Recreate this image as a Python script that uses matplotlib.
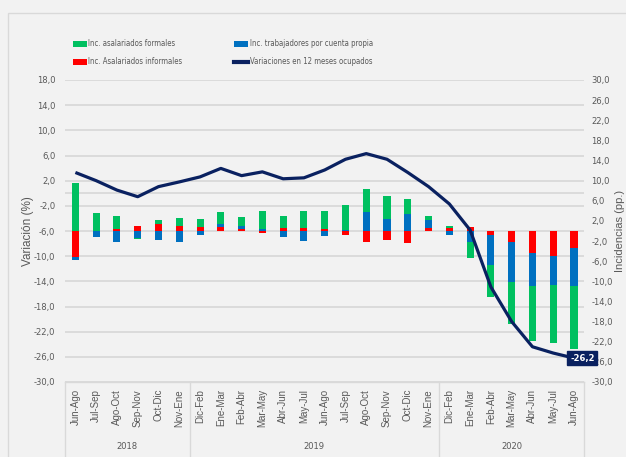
import numpy as np
import matplotlib
matplotlib.use("Agg")
import matplotlib.pyplot as plt
from matplotlib import font_manager as fm
from matplotlib.patches import Patch, Rectangle
from matplotlib.lines import Line2D
from matplotlib.ticker import FuncFormatter, FixedLocator

# ---------------- data ----------------
periods = ["Jun-Ago", "Jul-Sep", "Ago-Oct", "Sep-Nov", "Oct-Dic", "Nov-Ene",
           "Dic-Feb", "Ene-Mar", "Feb-Abr", "Mar-May", "Abr-Jun", "May-Jul",
           "Jun-Ago", "Jul-Sep", "Ago-Oct", "Sep-Nov", "Oct-Dic", "Nov-Ene",
           "Dic-Feb", "Ene-Mar", "Feb-Abr", "Mar-May", "Abr-Jun", "May-Jul", "Jun-Ago"]
years = ["2018", "2019", "2020"]
year_counts = [6, 12, 7]

inc_informales = [-5.2, 0.0, 0.3, 0.9, 1.45, 0.95, 0.7, 0.8, 0.45, -0.3, 0.65, 0.65, 0.35,
                  -0.8, -2.1, -1.8, -2.45, 0.65, 0.65, 0.8, -0.7, -2.25, -4.3, -5.0, -3.3]
inc_cuenta_propia = [-0.5, -1.1, -2.1, -1.3, -1.8, -2.2, -0.7, 0.6, 0.5, 0.3, -1.25, -1.9, -0.9,
                     0.25, 3.8, 2.45, 3.4, 1.6, -0.75, -2.1, -6.05, -7.8, -6.6, -5.8, -7.6]
inc_formales = [9.5, 3.6, 2.75, -0.35, 0.7, 1.7, 1.6, 2.45, 1.8, 3.6, 2.4, 3.4, 3.7,
                5.0, 4.5, 4.5, 3.0, 0.8, 0.4, -3.2, -6.3, -8.4, -10.9, -11.5, -12.5]
variacion = [3.3, 2.0, 0.5, -0.55, 1.05, 1.8, 2.6, 3.95, 2.8, 3.4, 2.3, 2.45, 3.7,
             5.4, 6.3, 5.4, 3.3, 1.05, -1.7, -5.85, -14.9, -20.4, -24.4, -25.4, -26.2]

left_ticks = np.arange(-30, 19, 4)
right_ticks = np.arange(-30, 31, 4)

# ---------------- fonts ----------------
names = {f.name for f in fm.fontManager.ttflist}
condensed_dejavu = any(f.name == "DejaVu Sans" and str(f.stretch) in ("condensed", "semi-condensed", "500", "375")
                       for f in fm.fontManager.ttflist)
if "Liberation Sans Narrow" in names:
    NARROW = dict(family=["Liberation Sans Narrow", "DejaVu Sans"])
    NSCALE = 1.0
elif condensed_dejavu:
    NARROW = dict(family=["DejaVu Sans"], stretch="condensed")
    NSCALE = 0.9
else:
    NARROW = dict(family=["Liberation Sans", "DejaVu Sans"])
    NSCALE = 0.84
REG = ["Liberation Sans", "DejaVu Sans"]

# ---------------- style ----------------
GREEN = "#00c060"
RED = "#ff0000"
BLUE = "#0070c0"
NAVY = "#0a2160"
GRID = "#d9d9d9"
TXT = "#595959"
BG = "#f2f2f2"

W, H = 626, 457
fig = plt.figure(figsize=(W / 100, H / 100), dpi=100, facecolor=BG)

# outer chart frame
fig.patches.append(Rectangle((8 / W, -0.1), 1.2, (1 - 13 / H) + 0.1, transform=fig.transFigure,
                             facecolor="none", edgecolor=GRID, linewidth=1.0, zorder=-5))

AX_L, AX_R, AX_T, AX_B = 65, 584.4, 80, 382
rect = [AX_L / W, 1 - AX_B / H, (AX_R - AX_L) / W, (AX_B - AX_T) / H]
ax = fig.add_axes(rect)           # grid + left axis labels + categories
ax2 = ax.twinx()                  # bars (right axis)
ax3 = ax.twinx()                  # line (left scale)

x = np.arange(len(periods))
fmt = FuncFormatter(lambda v, p: f"{v:.1f}".replace(".", ","))

for a in (ax, ax2, ax3):
    for s in a.spines.values():
        s.set_visible(False)
    a.patch.set_visible(False)

ax.set_ylim(-30, 18)
ax3.set_ylim(-30, 18)
ax2.set_ylim(-30, 30)

def narrow_font(size):
    return fm.FontProperties(size=size * NSCALE, **NARROW)

# grid on left scale
ax.yaxis.set_major_locator(FixedLocator(left_ticks))
ax.yaxis.set_major_formatter(fmt)
ax.grid(axis="y", color=GRID, linewidth=1.3)
ax.axhline(0, color=GRID, linewidth=1.3)
ax.tick_params(axis="y", length=0, pad=7, labelcolor=TXT)
ax.spines["bottom"].set_visible(True)
ax.spines["bottom"].set_color(GRID)
ax.spines["bottom"].set_linewidth(1.0)

ax.set_ylabel("Variación (%)", fontsize=8.5, color=TXT, family=REG)
ax.yaxis.set_label_coords((34 - AX_L) / (AX_R - AX_L), 0.5)

# bars on right scale (stack order: informales, cuenta propia, formales)
pos = np.zeros(len(x))
neg = np.zeros(len(x))
for vals, col in ((inc_informales, RED), (inc_cuenta_propia, BLUE), (inc_formales, GREEN)):
    v = np.array(vals, dtype=float)
    bottom = np.where(v >= 0, pos, neg)
    ax2.bar(x, v, width=0.34, bottom=bottom, color=col, linewidth=0, zorder=2)
    pos = pos + np.where(v >= 0, v, 0)
    neg = neg + np.where(v < 0, v, 0)

ax2.yaxis.set_major_locator(FixedLocator(right_ticks))
ax2.yaxis.set_major_formatter(fmt)
ax2.tick_params(axis="y", length=0, pad=5, labelcolor=TXT)
ax2.set_ylabel("Incidencias (pp.)", fontsize=8, color=TXT, family=REG)
ax2.yaxis.set_label_coords((615.5 - AX_L) / (AX_R - AX_L), 0.5)

# line on left scale
ax3.plot(x, variacion, color=NAVY, linewidth=2.3, solid_capstyle="butt", zorder=3)
ax3.set_yticks([])
last = variacion[-1]
ax3.annotate(f"{last:.1f}".replace(".", ","), xy=(x[-1], last), xytext=(6, 0),
             textcoords="offset points", ha="center", va="center",
             fontproperties=fm.FontProperties(size=7.5 * NSCALE, weight="bold", **NARROW),
             color="white",
             bbox=dict(boxstyle="square,pad=0.3", facecolor=NAVY, edgecolor=NAVY),
             annotation_clip=False, zorder=5)

# category axis (shared x)
ax.set_xticks(x)
ax.set_xticklabels(periods, rotation=90, fontsize=7, color=TXT, family=REG)
ax.tick_params(axis="x", length=0, pad=5)
ax.set_xlim(-0.5, len(periods) - 0.5)

fig.canvas.draw()
for lab in ax.get_yticklabels() + ax2.get_yticklabels():
    lab.set_fontproperties(narrow_font(7.5))

# year groups and separators
start = 0
bounds = [-0.5]
for yr, n in zip(years, year_counts):
    center = start + (n - 1) / 2
    ax.text(center, -0.215, yr, transform=ax.get_xaxis_transform(), ha="center", va="center",
            fontproperties=narrow_font(7.5), color=TXT)
    start += n
    bounds.append(start - 0.5)
for b in bounds:
    ax.plot([b, b], [0, -0.26], transform=ax.get_xaxis_transform(), color=GRID,
            linewidth=1.0, clip_on=False)

# legend (two columns placed independently)
col1 = [Patch(facecolor=GREEN, edgecolor="none", label="Inc. asalariados formales"),
        Patch(facecolor=RED, edgecolor="none", label="Inc. Asalariados informales")]
col2 = [Patch(facecolor=BLUE, edgecolor="none", label="Inc. trabajadores por cuenta propia"),
        Line2D([0], [0], color=NAVY, linewidth=3, label="Variaciones en 12 meses ocupados")]
LEG_FS = 6.2 * NSCALE
fs_px = LEG_FS * 100 / 72
leg_kw = dict(loc="upper left", frameon=False, borderpad=0, borderaxespad=0,
              handlelength=14 / fs_px, handleheight=6 / fs_px, handletextpad=1.5 / fs_px,
              labelspacing=9.0 / fs_px, prop=narrow_font(6.2), labelcolor=TXT)
l1 = fig.legend(handles=col1, bbox_to_anchor=(73 / W, 1 - 39.5 / H), **leg_kw)
l2 = fig.legend(handles=col2, bbox_to_anchor=(234 / W, 1 - 39.5 / H), **leg_kw)

fig.savefig("out.png", dpi=100, facecolor=BG)
